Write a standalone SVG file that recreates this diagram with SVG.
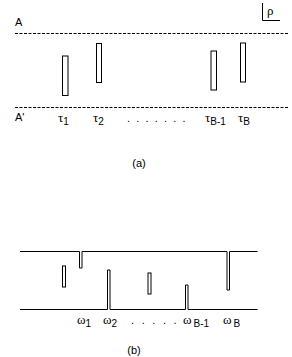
<svg xmlns="http://www.w3.org/2000/svg" width="292" height="357" viewBox="0 0 292 357">
<style>
.dash{stroke:#000;stroke-width:1;stroke-dasharray:3,1.5;fill:none}
.ln{stroke:#000;stroke-width:1;fill:none}
.bar{stroke:#000;stroke-width:1;fill:#fff}
.t{font-family:"Liberation Sans",Arial,sans-serif;font-size:11px;fill:#000}
.g{font-family:"Liberation Serif","Times New Roman",serif;font-size:13px;fill:#000}
.s{font-family:"Liberation Sans",Arial,sans-serif;font-size:10px;fill:#000}
</style>
<rect width="292" height="357" fill="#fff"/>
<g id="panel-a">
  <g id="line-A"><line class="dash" x1="15" y1="33.5" x2="289" y2="33.5"/><text class="t" x="15" y="26">A</text></g>
  <g id="line-A2"><line class="dash" x1="15" y1="107.5" x2="289" y2="107.5"/><text class="t" x="15" y="121">A'</text></g>
  <g id="rho"><polyline class="ln" points="262.5,3 262.5,20.5 280,20.5"/><text class="g" x="267" y="15">ρ</text></g>
  <g id="rect1"><rect class="bar" x="62.5" y="56" width="5.5" height="39.5"/></g>
  <g id="rect2"><rect class="bar" x="96.5" y="43.5" width="5" height="39"/></g>
  <g id="rect3"><rect class="bar" x="211" y="51" width="5.5" height="39"/></g>
  <g id="rect4"><rect class="bar" x="240.5" y="43" width="5" height="39"/></g>
  <g id="labels-a">
    <text x="58" y="122"><tspan class="g">τ</tspan><tspan class="s" dy="3">1</tspan></text>
    <text x="93" y="122"><tspan class="g">τ</tspan><tspan class="s" dy="3">2</tspan></text>
    <text class="t" x="127" y="122" letter-spacing="6.2">.......</text>
    <text x="205" y="122"><tspan class="g">τ</tspan><tspan class="s" dy="3">B-1</tspan></text>
    <text x="238" y="122"><tspan class="g">τ</tspan><tspan class="s" dy="3">B</tspan></text>
    <text class="t" x="139" y="167" text-anchor="middle">(a)</text>
  </g>
</g>
<g id="panel-b">
  <g id="connectors">
    <path class="ln" d="M20,251.5 H79.5 V268 H82 V251.5 H227 V290 H229.5 V251.5 H257.5"/>
    <path class="ln" d="M20,309.5 H107.5 V270 H110 V309.5 H185.5 V285 H188 V309.5 H257.5"/>
  </g>
  <g id="brect1"><rect class="bar" x="62.5" y="266" width="3" height="21"/></g>
  <g id="brect2"><rect class="bar" x="148" y="273" width="3" height="21"/></g>
  <g id="labels-b">
    <text x="77" y="324"><tspan class="g">ω</tspan><tspan class="s" dy="3">1</tspan></text>
    <text x="103" y="324"><tspan class="g">ω</tspan><tspan class="s" dy="3">2</tspan></text>
    <text class="t" x="131" y="324" letter-spacing="7.6">.....</text>
    <text x="183" y="324"><tspan class="g">ω</tspan><tspan class="s" dx="2" dy="3">B-1</tspan></text>
    <text x="223" y="324"><tspan class="g">ω</tspan><tspan class="s" dx="2" dy="3">B</tspan></text>
    <text class="t" x="134" y="354" text-anchor="middle">(b)</text>
  </g>
</g>
</svg>
